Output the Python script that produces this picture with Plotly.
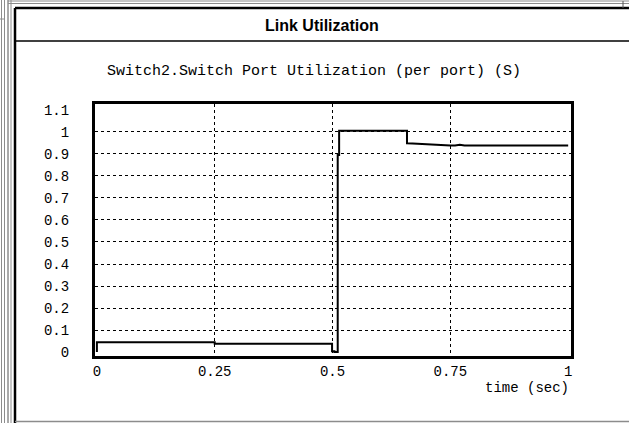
import plotly.graph_objects as go

# ---- data ----
time_sec = [0.0, 0.0, 0.25, 0.25, 0.499, 0.499, 0.504, 0.504, 0.511, 0.511, 0.514, 0.514,
            0.658, 0.658, 0.67, 0.68, 0.69, 0.70, 0.71, 0.72, 0.73, 0.74, 0.75, 0.76,
            0.77, 0.78, 0.79, 0.80, 0.81, 0.82, 0.83, 0.84, 0.85, 0.86, 0.87, 0.88,
            0.89, 0.90, 0.91, 0.92, 0.93, 0.94, 0.95, 0.96, 0.97, 0.98, 0.99, 1.0]
utilization = [0.0, 0.045, 0.045, 0.038, 0.038, 0.004, 0.004, 0.0, 0.0, 0.895, 0.895, 1.005,
               1.005, 0.948, 0.947, 0.946, 0.945, 0.944, 0.943, 0.942, 0.938, 0.939, 0.938, 0.939,
               0.942, 0.938, 0.938, 0.938, 0.939, 0.938, 0.938, 0.938, 0.940, 0.938, 0.938, 0.941,
               0.938, 0.938, 0.941, 0.938, 0.939, 0.938, 0.938, 0.938, 0.939, 0.938, 0.938, 0.938]

y_ticks = [0, 0.1, 0.2, 0.3, 0.4, 0.5, 0.6, 0.7, 0.8, 0.9, 1.0, 1.1]
y_labels = ['0', '0.1', '0.2', '0.3', '0.4', '0.5', '0.6', '0.7', '0.8', '0.9', '1', '1.1']
x_ticks = [0, 0.25, 0.5, 0.75, 1]
x_labels = ['0', '0.25', '0.5', '0.75', '1']

W, H = 629, 423
L, R, T, B = 95, 58, 104, 67
PW, PH = W - L - R, H - T - B

def px(x):
    return (x - L) / PW

def py(y):
    return (H - B - y) / PH

mono = 'Liberation Mono'

fig = go.Figure()
# dummy trace so the grid-only axes render
fig.add_trace(go.Scatter(x=[None], y=[None], xaxis='x2', yaxis='y2', hoverinfo='skip'))
fig.add_trace(go.Scatter(x=time_sec, y=utilization, mode='lines',
                         line=dict(color='black', width=2), hoverinfo='skip'))

fig.update_layout(
    width=W, height=H, margin=dict(l=L, r=R, t=T, b=B),
    paper_bgcolor='white', plot_bgcolor='white', showlegend=False,
    font=dict(family=mono, size=14, color='black'),
    xaxis=dict(range=[-0.004, 1.006], tickvals=x_ticks, ticktext=x_labels,
               showgrid=False, zeroline=False, showline=True, mirror=True,
               linecolor='black', linewidth=3, ticks='', ticklabelstandoff=0),
    yaxis=dict(range=[-0.018, 1.127], tickvals=y_ticks, ticktext=y_labels,
               showgrid=False, zeroline=False, showline=True, mirror=True,
               linecolor='black', linewidth=3, ticks='', ticklabelstandoff=20),
    # overlay axes only to draw the dotted grid
    xaxis2=dict(overlaying='x', matches='x', tickvals=[0.25, 0.5, 0.75], showticklabels=False,
                showgrid=True, gridcolor='black', griddash='dot', gridwidth=1, zeroline=False),
    yaxis2=dict(overlaying='y', matches='y', tickvals=[0.1, 0.2, 0.3, 0.4, 0.5, 0.6, 0.7, 0.8, 0.9, 1.0],
                showticklabels=False, showgrid=True, gridcolor='black', griddash='dot',
                gridwidth=1, zeroline=False),
)

# window frame
shapes = []
gray = '#8c8c8c'
for x0, c, w in [(1.5, gray, 1), (4.5, gray, 1), (8, '#555555', 1), (11, gray, 1), (15, 'black', 2.5)]:
    shapes.append(dict(type='line', xref='paper', yref='paper', x0=px(x0), x1=px(x0),
                       y0=py(0 if x0 < 12 else 8), y1=py(H), line=dict(color=c, width=w)))
for y0, c, w, xs in [(1, gray, 1, 8), (3.5, gray, 1, 8), (8, 'black', 2.5, 15),
                     (41, 'black', 1.5, 15), (421.5, gray, 1.5, 15)]:
    shapes.append(dict(type='line', xref='paper', yref='paper', x0=px(xs), x1=px(W),
                       y0=py(y0), y1=py(y0), line=dict(color=c, width=w)))
shapes.append(dict(type='line', xref='paper', yref='paper', x0=px(0), x1=px(4.5),
                   y0=py(19), y1=py(19), line=dict(color=gray, width=1)))
shapes.append(dict(type='line', xref='paper', yref='paper', x0=px(623), x1=px(623),
                   y0=py(1), y1=py(8), line=dict(color='#555555', width=1)))
fig.update_layout(shapes=shapes)

fig.add_annotation(text='<b>Link Utilization</b>', xref='paper', yref='paper',
                   x=px(322), y=py(25), showarrow=False, xanchor='center', yanchor='middle',
                   font=dict(family='Liberation Sans', size=16, color='black'))
fig.add_annotation(text='Switch2.Switch Port Utilization (per port) (S)', xref='paper', yref='paper',
                   x=px(314), y=py(71), showarrow=False, xanchor='center', yanchor='middle',
                   font=dict(family=mono, size=15, color='black'))
fig.add_annotation(text='time (sec)', xref='paper', yref='paper',
                   x=px(571), y=py(388), showarrow=False, xanchor='right', yanchor='middle',
                   font=dict(family=mono, size=14, color='black'))

# the page body has a default margin; drop it so the figure sits at the window corner
fig.write_html("out.html", config={'displayModeBar': False},
               post_script="document.body.style.margin='0';")
